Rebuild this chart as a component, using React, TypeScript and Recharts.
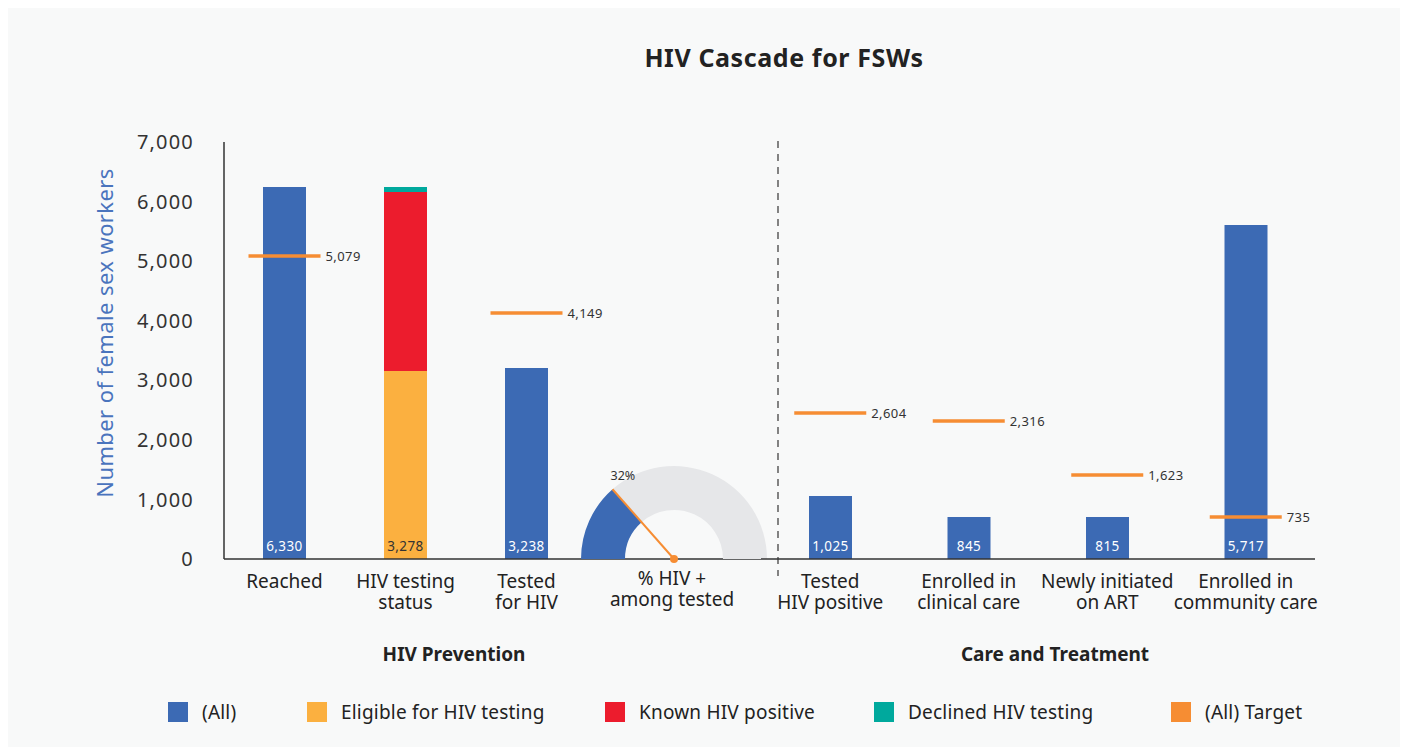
import { ComposedChart, Bar, Line, XAxis, YAxis, LabelList, PieChart, Pie, Cell } from "recharts"

// HIV prevention panel (bar heights, labels as printed)
const preventionCategories = ["Reached", "HIV testing\nstatus", "Tested\nfor HIV"]
const allValues = [6245, null, 3206]
const eligibleValues = [null, 3156, null]
const knownPositiveValues = [null, 3005, null]
const declinedValues = [null, 84, null]
const preventionTargets = [5086, null, 4130]
const allBarLabels = ["6,330", null, "3,238"]
const eligibleBarLabels = [null, "3,278", null]
const preventionTargetLabels = ["5,079", null, "4,149"]

// care and treatment panel
const careCategories = [
  "Tested\nHIV positive",
  "Enrolled in\nclinical care",
  "Newly initiated\non ART",
  "Enrolled in\ncommunity care",
]
const careValues = [1058, 705, 705, 5607]
const careTargets = [2451, 2317, 1410, 705]
const careBarLabels = ["1,025", "845", "815", "5,717"]
const careTargetLabels = ["2,604", "2,316", "1,623", "735"]

// gauge
const gaugeCategory = "% HIV +\namong tested"
const gaugeValue = 27
const gaugeLabel = "32%"

const yTicks = [0, 1000, 2000, 3000, 4000, 5000, 6000, 7000]

const FONT = "'Noto Sans', sans-serif"
const BLUE = "#3c6ab4"
const YELLOW = "#fbb040"
const RED = "#ec1c2d"
const TEAL = "#00a99d"
const ORANGE = "#f68d33"
const GREY = "#e6e7e9"

const legendItems = [
  { name: "(All)", color: BLUE, left: 160 },
  { name: "Eligible for HIV testing", color: YELLOW, left: 299 },
  { name: "Known HIV positive", color: RED, left: 597 },
  { name: "Declined HIV testing", color: TEAL, left: 866 },
  { name: "(All) Target", color: ORANGE, left: 1163 },
]

const preventionData = preventionCategories.map((name, i) => ({
  name,
  all: allValues[i],
  eligible: eligibleValues[i],
  known: knownPositiveValues[i],
  declined: declinedValues[i],
  target: preventionTargets[i],
  allLabel: allBarLabels[i],
  eligibleLabel: eligibleBarLabels[i],
  targetLabel: preventionTargetLabels[i],
}))

const careData = careCategories.map((name, i) => ({
  name,
  all: careValues[i],
  target: careTargets[i],
  allLabel: careBarLabels[i],
  targetLabel: careTargetLabels[i],
}))

const gaugeData = [
  { name: "HIV +", value: gaugeValue },
  { name: "rest", value: 100 - gaugeValue },
]

function CategoryTick(props: any) {
  const { x, y, payload } = props
  const lines = String(payload.value).split("\n")
  return (
    <text x={x} y={y} textAnchor="middle" fontFamily={FONT} fontSize={19} fill="#222">
      {lines.map((line, i) => (
        <tspan key={i} x={x} dy={i === 0 ? 27 : 21}>
          {line}
        </tspan>
      ))}
    </text>
  )
}

const barLabel = (fill: string) => (props: any) => {
  const { x, y, width, height, value } = props
  if (value == null || value === "") return null
  return (
    <text
      x={Number(x) + Number(width) / 2}
      y={Number(y) + Number(height) - 8}
      textAnchor="middle"
      fontFamily={FONT}
      fontSize={13.5}
      letterSpacing={0.4}
      fill={fill}
    >
      {value}
    </text>
  )
}

const renderTarget = (props: any) => {
  const { cx, cy, index, payload } = props
  if (cy == null || payload == null || payload.targetLabel == null) return <g key={index} />
  return (
    <g key={index}>
      <line x1={cx - 36} x2={cx + 36} y1={cy} y2={cy} stroke={ORANGE} strokeWidth={3.5} />
      <text x={cx + 41} y={cy} dy="0.35em" fontFamily={FONT} fontSize={13} letterSpacing={0.4} fill="#333">
        {payload.targetLabel}
      </text>
    </g>
  )
}

const renderGaugeLabel = (props: any) => {
  const { cx, cy, endAngle, outerRadius, index } = props
  if (index !== 0) return null
  const rad = (endAngle * Math.PI) / 180
  const tipX = cx + outerRadius * Math.cos(rad)
  const tipY = cy - outerRadius * Math.sin(rad)
  return (
    <g>
      <line x1={cx} y1={cy} x2={tipX} y2={tipY} stroke={ORANGE} strokeWidth={2} />
      <circle cx={cx} cy={cy} r={4} fill={ORANGE} />
      <text x={tipX - 2} y={tipY - 9} fontFamily={FONT} fontSize={12.5} fill="#333">
        {gaugeLabel}
      </text>
    </g>
  )
}

const yAxisProps = {
  domain: [0, 7000] as [number, number],
  ticks: yTicks,
  interval: 0 as const,
}

export default function App() {
  return (
    <div
      style={{
        position: "relative",
        width: 1396,
        height: 739,
        background: "#f8f9f9",
        fontFamily: FONT,
        color: "#222",
      }}
    >
      <div
        style={{
          position: "absolute",
          left: 476,
          top: 32,
          width: 600,
          textAlign: "center",
          fontSize: 25,
          fontWeight: 700,
          letterSpacing: 0.6,
          lineHeight: "34px",
        }}
      >
        HIV Cascade for FSWs
      </div>

      <div
        style={{
          position: "absolute",
          left: -104,
          top: 310,
          width: 400,
          height: 30,
          lineHeight: "30px",
          textAlign: "center",
          fontSize: 22,
          letterSpacing: 0.4,
          color: "#4a74bd",
          transform: "rotate(-90deg)",
        }}
      >
        Number of female sex workers
      </div>

      <div style={{ position: "absolute", left: 0, top: 0 }}>
        <ComposedChart
          width={753}
          height={620}
          data={preventionData}
          margin={{ top: 134, right: 0, bottom: 0, left: 0 }}
          barCategoryGap={0}
        >
          <XAxis
            dataKey="name"
            interval={0}
            tick={<CategoryTick />}
            tickLine={false}
            tickSize={0}
            height={69}
            padding={{ left: 0, right: 174 }}
            axisLine={{ stroke: "#333", strokeWidth: 1.5 }}
          />
          <YAxis
            {...yAxisProps}
            width={216}
            tickLine={false}
            tickSize={0}
            tickMargin={30}
            axisLine={{ stroke: "#333", strokeWidth: 1.5 }}
            tickFormatter={(v: number) => v.toLocaleString("en-US")}
            tick={{ fontFamily: FONT, fontSize: 20, fill: "#333", letterSpacing: 1.2 }}
          />
          <Bar dataKey="all" stackId="s" fill={BLUE} barSize={43} isAnimationActive={false}>
            <LabelList dataKey="allLabel" content={barLabel("#fff")} />
          </Bar>
          <Bar dataKey="eligible" stackId="s" fill={YELLOW} barSize={43} isAnimationActive={false}>
            <LabelList dataKey="eligibleLabel" content={barLabel("#333")} />
          </Bar>
          <Bar dataKey="known" stackId="s" fill={RED} barSize={43} isAnimationActive={false} />
          <Bar dataKey="declined" stackId="s" fill={TEAL} barSize={43} isAnimationActive={false} />
          <Line dataKey="target" stroke="none" dot={renderTarget} activeDot={false} isAnimationActive={false} />
        </ComposedChart>
      </div>

      <div style={{ position: "absolute", left: 566, top: 441 }}>
        <PieChart width={200} height={116} margin={{ top: 0, right: 0, bottom: 0, left: 0 }}>
          <Pie
            data={gaugeData}
            dataKey="value"
            cx={100}
            cy={110}
            startAngle={180}
            endAngle={0}
            innerRadius={49}
            outerRadius={93}
            stroke="none"
            label={renderGaugeLabel}
            labelLine={false}
            isAnimationActive={false}
          >
            <Cell fill={BLUE} />
            <Cell fill={GREY} />
          </Pie>
        </PieChart>
      </div>

      <div
        style={{
          position: "absolute",
          left: 564,
          top: 560,
          width: 200,
          textAlign: "center",
          fontSize: 19,
          lineHeight: "21px",
          whiteSpace: "pre",
        }}
      >
        {gaugeCategory}
      </div>

      <svg style={{ position: "absolute", left: 765, top: 130 }} width={10} height={440}>
        <line x1={5} x2={5} y1={3} y2={438} stroke="#444" strokeWidth={1.3} strokeDasharray="7 6" />
      </svg>

      <div style={{ position: "absolute", left: 753, top: 0 }}>
        <ComposedChart
          width={643}
          height={620}
          data={careData}
          margin={{ top: 134, right: 89, bottom: 0, left: 0 }}
          barCategoryGap={0}
        >
          <XAxis
            dataKey="name"
            interval={0}
            tick={<CategoryTick />}
            tickLine={false}
            tickSize={0}
            height={69}
            axisLine={{ stroke: "#333", strokeWidth: 1.5 }}
          />
          <YAxis {...yAxisProps} hide width={0} />
          <Bar dataKey="all" fill={BLUE} barSize={43} isAnimationActive={false}>
            <LabelList dataKey="allLabel" content={barLabel("#fff")} />
          </Bar>
          <Line dataKey="target" stroke="none" dot={renderTarget} activeDot={false} isAnimationActive={false} />
        </ComposedChart>
      </div>

      <div
        style={{
          position: "absolute",
          left: 346,
          top: 634,
          width: 200,
          textAlign: "center",
          fontSize: 19,
          fontWeight: 700,
          lineHeight: "24px",
        }}
      >
        HIV Prevention
      </div>
      <div
        style={{
          position: "absolute",
          left: 897,
          top: 634,
          width: 300,
          textAlign: "center",
          fontSize: 19,
          fontWeight: 700,
          lineHeight: "24px",
        }}
      >
        Care and Treatment
      </div>

      {legendItems.map((item) => (
        <div
          key={item.name}
          style={{
            position: "absolute",
            left: item.left,
            top: 692,
            height: 24,
            display: "flex",
            alignItems: "center",
            gap: 14,
            fontSize: 19,
            letterSpacing: 0.2,
            whiteSpace: "nowrap",
          }}
        >
          <span style={{ width: 20, height: 20, background: item.color, display: "inline-block" }} />
          <span>{item.name}</span>
        </div>
      ))}
    </div>
  )
}
